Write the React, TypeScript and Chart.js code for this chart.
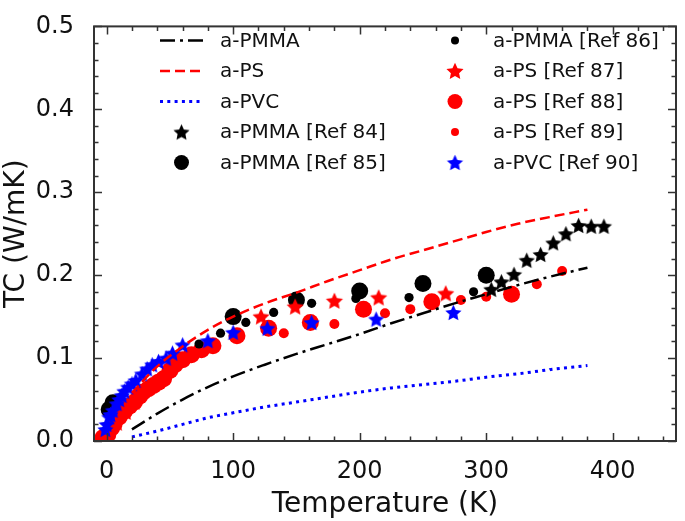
import React, { useEffect, useRef } from 'react';
import { Chart, registerables } from 'chart.js';

Chart.register(...registerables);

// ---- axes ----
const X_MIN = -10;
const X_MAX = 450;
const Y_MIN = 0;
const Y_MAX = 0.5;
const X_TICKS = [0, 100, 200, 300, 400];
const Y_TICKS = [0, 0.1, 0.2, 0.3, 0.4, 0.5];
const X_MINOR_STEP = 20;
const X_MINOR_LAST = 440;
const Y_MINOR_STEP = 0.02;

const X_TITLE = 'Temperature (K)';
const Y_TITLE = 'TC (W/mK)';

// ---- model curves [T (K), TC (W/mK)] ----
const fitPMMA: [number, number][] = [
  [20, 0.014], [40, 0.033], [60, 0.050], [80, 0.065], [100, 0.078], [125, 0.092],
  [150, 0.105], [175, 0.117], [200, 0.129], [225, 0.142], [250, 0.154], [275, 0.166],
  [300, 0.177], [325, 0.188], [350, 0.198], [380, 0.209],
];
const fitPS: [number, number][] = [
  [20, 0.058], [40, 0.090], [60, 0.114], [80, 0.134], [100, 0.150], [125, 0.166],
  [150, 0.179], [175, 0.193], [200, 0.206], [225, 0.219], [250, 0.230], [275, 0.241],
  [300, 0.252], [325, 0.262], [350, 0.270], [380, 0.279],
];
const fitPVC: [number, number][] = [
  [20, 0.005], [40, 0.012], [60, 0.020], [80, 0.028], [100, 0.034], [125, 0.041],
  [150, 0.047], [175, 0.053], [200, 0.059], [225, 0.064], [250, 0.068], [275, 0.072],
  [300, 0.077], [325, 0.081], [350, 0.086], [380, 0.091],
];

// ---- experimental data ----
const ref84PMMA: [number, number][] = [
  [304, 0.183], [312, 0.192], [322, 0.201], [332, 0.218], [343, 0.225],
  [353, 0.239], [363, 0.250], [373, 0.260], [383, 0.259], [393, 0.259],
];
const ref85PMMA: [number, number][] = [
  [2, 0.038], [5, 0.046], [100, 0.150], [150, 0.170], [200, 0.181], [250, 0.190], [300, 0.200],
];
const ref86PMMA: [number, number][] = [
  [73, 0.117], [90, 0.130], [110, 0.143], [132, 0.155], [162, 0.166], [197, 0.172],
  [239, 0.173], [290, 0.180],
];
const ref87PS: [number, number][] = [
  [8, 0.022], [15, 0.035], [22, 0.047],
  [122, 0.150], [149, 0.162], [180, 0.169], [215, 0.173], [268, 0.178],
];
const ref88PS: [number, number][] = [
  [-3, 0.004], [1, 0.008], [4, 0.016], [6, 0.021], [10, 0.029], [14, 0.036], [18, 0.042],
  [22, 0.047], [26, 0.054], [29, 0.059], [33, 0.063], [37, 0.067], [41, 0.071],
  [45, 0.075], [50, 0.085], [54, 0.092], [60, 0.098], [67, 0.104], [75, 0.110], [84, 0.115],
  [103, 0.127], [128, 0.136], [161, 0.143], [203, 0.159], [257, 0.168], [320, 0.177],
];
const ref89PS: [number, number][] = [
  [10, 0.030], [18, 0.042], [26, 0.055], [34, 0.065], [42, 0.072], [50, 0.083], [58, 0.095],
  [140, 0.130], [180, 0.141], [220, 0.154], [240, 0.159], [280, 0.170], [300, 0.174],
  [340, 0.189], [360, 0.205],
];
const ref90PVC: [number, number][] = [
  [-1, 0.014], [0, 0.020], [2, 0.029], [3, 0.032], [5, 0.037], [8, 0.045], [10, 0.050],
  [12, 0.055], [14, 0.060], [17, 0.065], [20, 0.069], [23, 0.073], [28, 0.081], [32, 0.087],
  [36, 0.092], [41, 0.096], [47, 0.100], [52, 0.106], [60, 0.116], [80, 0.121],
  [100, 0.131], [127, 0.136], [162, 0.143], [213, 0.147], [274, 0.155],
];

const LABELS = [
  'a-PMMA', 'a-PS', 'a-PVC', 'a-PMMA [Ref 84]', 'a-PMMA [Ref 85]',
  'a-PMMA [Ref 86]', 'a-PS [Ref 87]', 'a-PS [Ref 88]', 'a-PS [Ref 89]', 'a-PVC [Ref 90]',
];

const FONT = 'DejaVu Sans';
const TEXT = '#111';
const BLACK = '#000000';
const RED = '#ff0000';
const BLUE = '#0000ff';

const toXY = (arr: [number, number][]) => arr.map(([x, y]) => ({ x, y }));

function makeStar(color: string, r: number): HTMLCanvasElement {
  const s = Math.ceil(2 * r + 2);
  const c = document.createElement('canvas');
  c.width = s;
  c.height = s;
  const g = c.getContext('2d')!;
  g.fillStyle = color;
  g.beginPath();
  for (let i = 0; i < 10; i++) {
    const rad = i % 2 === 0 ? r : r * 0.48;
    const a = -Math.PI / 2 + (i * Math.PI) / 5;
    const px = s / 2 + rad * Math.cos(a);
    const py = s / 2 + rad * Math.sin(a) + 0.8;
    if (i === 0) g.moveTo(px, py);
    else g.lineTo(px, py);
  }
  g.closePath();
  g.fill();
  return c;
}

const frameTicks = {
  id: 'frameTicks',
  afterDatasetsDraw(chart: any) {
    const { ctx, chartArea, scales } = chart;
    const { left, right, top, bottom } = chartArea;
    const xs = scales.x;
    const ys = scales.y;
    ctx.save();
    ctx.strokeStyle = '#333';
    ctx.lineWidth = 1.5;
    ctx.beginPath();
    for (let v = 0; v <= X_MINOR_LAST + 1e-9; v += X_MINOR_STEP) {
      const px = Math.round(xs.getPixelForValue(v)) + 0.5;
      const len = Math.abs(v % 100) < 1e-9 ? 8 : 4.5;
      ctx.moveTo(px, bottom);
      ctx.lineTo(px, bottom - len);
      ctx.moveTo(px, top);
      ctx.lineTo(px, top + len);
    }
    const n = Math.round((Y_MAX - Y_MIN) / Y_MINOR_STEP);
    for (let i = 0; i <= n; i++) {
      const v = Y_MIN + i * Y_MINOR_STEP;
      const py = Math.round(ys.getPixelForValue(v)) + 0.5;
      const len = i % 5 === 0 ? 8 : 4.5;
      ctx.moveTo(left, py);
      ctx.lineTo(left + len, py);
      ctx.moveTo(right, py);
      ctx.lineTo(right - len, py);
    }
    ctx.stroke();
    ctx.lineWidth = 2;
    ctx.strokeStyle = '#333';
    ctx.strokeRect(left, top, right - left, bottom - top);
    ctx.restore();
  },
};

const customLegend = {
  id: 'customLegend',
  afterDraw(chart: any) {
    const { ctx } = chart;
    const ds = chart.data.datasets;
    ctx.save();
    ctx.font = `20px "${FONT}"`;
    ctx.textBaseline = 'middle';
    ctx.textAlign = 'left';
    ds.forEach((d: any, i: number) => {
      const col = i < 5 ? 0 : 1;
      const row = i % 5;
      const y = 40.5 + row * 30.5;
      const sampleL = col === 0 ? 160 : 434;
      const sampleR = col === 0 ? 203 : 476;
      const cx = col === 0 ? 181.5 : 455;
      const tx = col === 0 ? 220 : 493;
      if (d.showLine) {
        ctx.save();
        ctx.strokeStyle = d.borderColor;
        ctx.lineWidth = d.borderWidth;
        ctx.setLineDash(d.borderDash || []);
        ctx.beginPath();
        ctx.moveTo(sampleL, y);
        ctx.lineTo(sampleR, y);
        ctx.stroke();
        ctx.restore();
      } else if (typeof d.pointStyle === 'object') {
        const img = d.pointStyle as HTMLCanvasElement;
        ctx.drawImage(img, cx - img.width / 2, y - img.height / 2);
      } else {
        ctx.fillStyle = d.backgroundColor;
        ctx.beginPath();
        ctx.arc(cx, y, d.legendRadius, 0, Math.PI * 2);
        ctx.fill();
      }
      ctx.fillStyle = TEXT;
      ctx.fillText(d.label, tx, y + 1);
    });
    ctx.restore();
  },
};

export default function App() {
  const ref = useRef<HTMLCanvasElement | null>(null);

  useEffect(() => {
    if (!ref.current) return;
    const starBlack = makeStar(BLACK, 8.5);
    const starRed = makeStar(RED, 9);
    const starBlue = makeStar(BLUE, 8.5);

    const lineDs = (label: string, arr: [number, number][], color: string, dash: number[], width: number, order: number) => ({
      label,
      data: toXY(arr),
      showLine: true,
      borderColor: color,
      backgroundColor: color,
      borderWidth: width,
      borderDash: dash,
      borderCapStyle: 'butt',
      pointRadius: 0,
      cubicInterpolationMode: 'monotone',
      order,
    });
    const dotDs = (label: string, arr: [number, number][], color: string, r: number, legendR: number, order: number) => ({
      label,
      data: toXY(arr),
      showLine: false,
      pointStyle: 'circle',
      pointRadius: r,
      backgroundColor: color,
      borderColor: color,
      borderWidth: 0,
      legendRadius: legendR,
      order,
    });
    const starDs = (label: string, arr: [number, number][], img: HTMLCanvasElement, order: number) => ({
      label,
      data: toXY(arr),
      showLine: false,
      pointStyle: img,
      pointRadius: 8,
      order,
    });

    const chart = new Chart(ref.current, {
      type: 'scatter',
      data: {
        datasets: [
          lineDs(LABELS[0], fitPMMA, BLACK, [15, 5, 3, 5], 2.5, 1),
          lineDs(LABELS[1], fitPS, RED, [10, 5], 2.5, 0),
          lineDs(LABELS[2], fitPVC, BLUE, [3, 4.3], 3, 2),
          starDs(LABELS[3], ref84PMMA, starBlack, 4),
          dotDs(LABELS[4], ref85PMMA, BLACK, 8.5, 7.5, 9),
          dotDs(LABELS[5], ref86PMMA, BLACK, 4.6, 4, 7),
          starDs(LABELS[6], ref87PS, starRed, 5),
          dotDs(LABELS[7], ref88PS, RED, 8.5, 7.5, 8),
          dotDs(LABELS[8], ref89PS, RED, 5, 4, 6),
          starDs(LABELS[9], ref90PVC, starBlue, 3),
        ] as any,
      },
      options: {
        responsive: false,
        animation: false,
        events: [],
        layout: { padding: { top: 10, right: 2, left: 0, bottom: 0 } },
        plugins: {
          legend: { display: false },
          tooltip: { enabled: false },
        },
        scales: {
          x: {
            type: 'linear',
            min: X_MIN,
            max: X_MAX,
            afterBuildTicks: (s: any) => {
              s.ticks = X_TICKS.map((v) => ({ value: v }));
            },
            afterFit: (s: any) => {
              s.height = 80;
            },
            grid: { display: false },
            border: { display: false },
            ticks: {
              font: { family: FONT, size: 24 },
              color: TEXT,
              padding: 8,
              maxRotation: 0,
              autoSkip: false,
              callback: (v: any) => String(v),
            },
            title: {
              display: true,
              text: X_TITLE,
              font: { family: FONT, size: 28, lineHeight: 1 },
              color: TEXT,
              padding: { top: 0, bottom: 2 },
            },
          },
          y: {
            type: 'linear',
            min: Y_MIN,
            max: Y_MAX,
            afterBuildTicks: (s: any) => {
              s.ticks = Y_TICKS.map((v) => ({ value: v }));
            },
            afterFit: (s: any) => {
              s.width = 94;
            },
            grid: { display: false },
            border: { display: false },
            ticks: {
              font: { family: FONT, size: 24 },
              color: TEXT,
              padding: 12,
              autoSkip: false,
              callback: (v: any) => Number(v).toFixed(1),
            },
            title: {
              display: true,
              text: Y_TITLE,
              font: { family: FONT, size: 28, lineHeight: 1 },
              color: TEXT,
              padding: { top: 2.5, bottom: 0 },
            },
          },
        },
      } as any,
      plugins: [frameTicks, customLegend],
    });
    return () => chart.destroy();
  }, []);

  return (
    <div style={{ position: 'absolute', left: 0, top: 0, width: 685, height: 521, background: '#fff' }}>
      <canvas ref={ref} width={685} height={521} style={{ display: 'block', width: 685, height: 521 }} />
    </div>
  );
}
